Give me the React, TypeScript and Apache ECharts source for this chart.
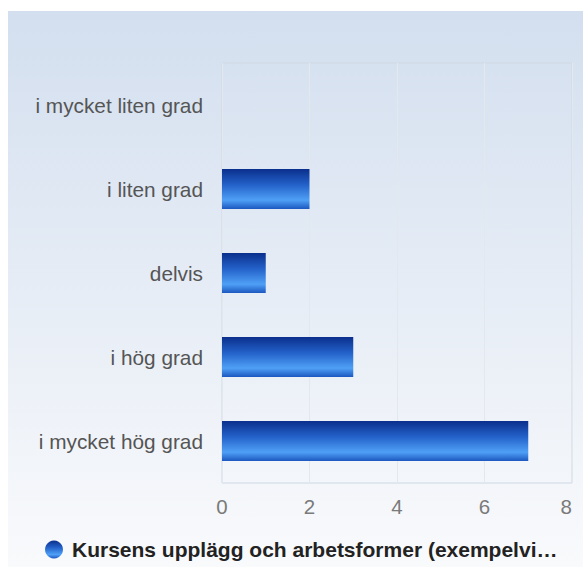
import React, { useEffect, useRef } from "react";
import * as echarts from "echarts";

const categories = ["i mycket liten grad", "i liten grad", "delvis", "i hög grad", "i mycket hög grad"];
const values = [0, 2, 1, 3, 7];
const seriesName = "Kursens upplägg och arbetsformer (exempelvi…";

export default function App() {
  const ref = useRef<HTMLDivElement>(null);
  useEffect(() => {
    if (!ref.current) return;
    const chart = echarts.init(ref.current, null, { renderer: "svg" });
    const barGrad = new echarts.graphic.LinearGradient(0, 0, 0, 1, [
      { offset: 0, color: "#0a2f8c" },
      { offset: 0.4, color: "#2462ca" },
      { offset: 0.78, color: "#4fa0f6" },
      { offset: 1, color: "#1c57c0" },
    ]);
    chart.setOption({
      animation: false,
      backgroundColor: new echarts.graphic.LinearGradient(0, 0, 0, 1, [
        { offset: 0, color: "#d3dfef" },
        { offset: 1, color: "#f9fafc" },
      ]),
      grid: {
        left: 214,
        right: 11,
        top: 52,
        bottom: 84,
        show: true,
        borderColor: "#cfd8e2",
        borderWidth: 1,
        backgroundColor: "transparent",
      },
      legend: {
        data: [seriesName],
        top: 523,
        left: 32,
        icon: "circle",
        itemWidth: 18,
        itemHeight: 18,
        itemGap: 8,
        textStyle: {
          fontFamily: "Liberation Sans, Arial, sans-serif",
          fontSize: 21,
          fontWeight: "bold",
          color: "#222",
          padding: [0, 0, 0, 4],
        },
      },
      xAxis: {
        type: "value",
        min: 0,
        max: 8,
        interval: 2,
        axisLine: { show: false },
        axisTick: { show: false },
        splitLine: { show: true, lineStyle: { color: "#e3e8ee" } },
        axisLabel: {
          margin: 13,
          alignMaxLabel: "right",
          fontFamily: "Liberation Sans, Arial, sans-serif",
          fontSize: 20.5,
          color: "#7a7a7a",
        },
      },
      yAxis: {
        type: "category",
        data: categories,
        inverse: true,
        axisLine: { show: false },
        axisTick: { show: false },
        splitLine: { show: false },
        axisLabel: {
          margin: 19,
          fontFamily: "Liberation Sans, Arial, sans-serif",
          fontSize: 20.8,
          color: "#555",
        },
      },
      series: [
        {
          name: seriesName,
          type: "bar",
          data: values,
          barWidth: 40,
          itemStyle: {
            color: barGrad,
          },
        },
      ],
    });
    return () => chart.dispose();
  }, []);
  return (
    <div
      ref={ref}
      style={{ position: "absolute", left: 8, top: 11, width: 575, height: 556 }}
    />
  );
}
